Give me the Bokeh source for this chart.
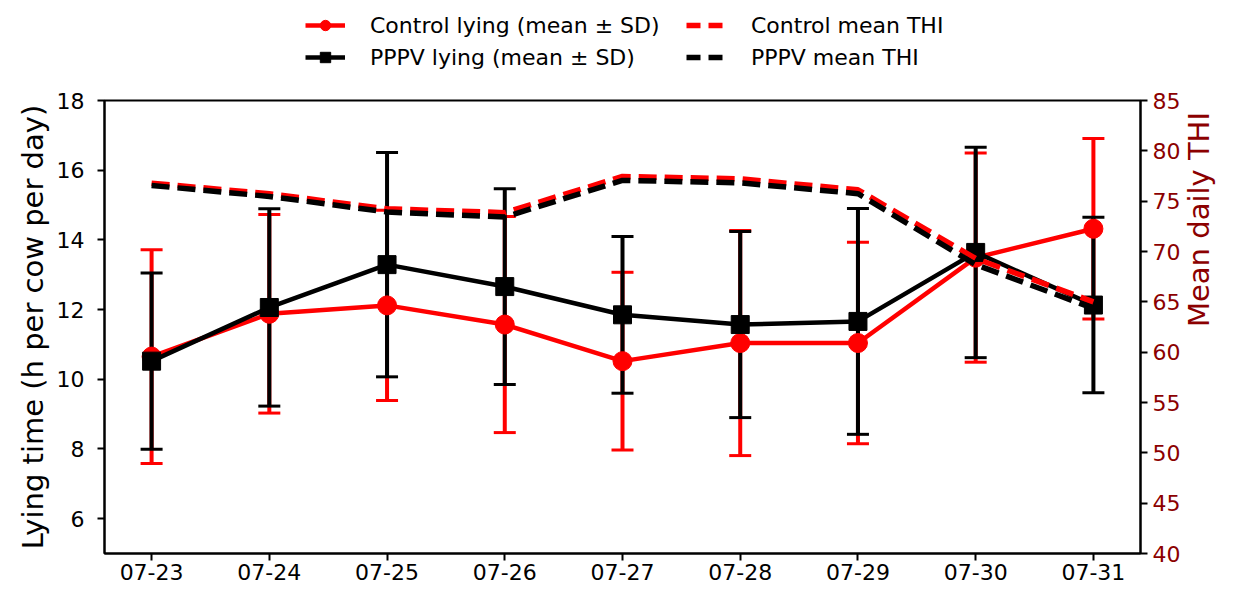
import math
from bokeh.plotting import figure
from bokeh.layouts import column
from bokeh.models import (Range1d, LinearAxis, FixedTicker, Legend, LegendItem,
                          ColumnDataSource)
from bokeh.embed import file_html
from bokeh.resources import INLINE

dates = ["07-23", "07-24", "07-25", "07-26", "07-27", "07-28", "07-29", "07-30", "07-31"]
ctrl_mean = [10.65, 11.88, 12.12, 11.57, 10.52, 11.04, 11.04, 13.49, 14.32]
ctrl_sd = [3.07, 2.85, 2.73, 3.10, 2.55, 3.23, 2.89, 3.00, 2.59]
pppv_mean = [10.52, 12.06, 13.29, 12.66, 11.85, 11.57, 11.66, 13.64, 12.13]
pppv_sd = [2.53, 2.83, 3.22, 2.81, 2.25, 2.67, 3.24, 3.02, 2.52]
ctrl_thi = [76.79, 75.73, 74.24, 73.86, 77.45, 77.22, 76.13, 69.3, 65.0]
pppv_thi = [76.56, 75.47, 73.92, 73.42, 77.06, 76.82, 75.74, 68.7, 64.35]
labels = ["Control lying (mean ± SD)", "PPPV lying (mean ± SD)",
          "Control mean THI", "PPPV mean THI"]

RED = "#ff0000"
BLACK = "#000000"
DARKRED = "#8b0000"
FONT = "DejaVu Sans"

x = list(range(len(dates)))


def src(mean, sd):
    return ColumnDataSource(dict(
        x=x, mean=mean,
        lo=[m - s for m, s in zip(mean, sd)],
        hi=[m + s for m, s in zip(mean, sd)],
    ))


cs = src(ctrl_mean, ctrl_sd)
ps = src(pppv_mean, pppv_sd)

# ---------------- main chart ----------------
p = figure(width=1236, height=516, output_backend="svg", toolbar_location=None,
           x_range=Range1d(-0.4, 8.4), y_range=Range1d(5, 18),
           min_border_left=104, min_border_right=90, min_border_top=28,
           min_border_bottom=35)
p.extra_y_ranges = {"thi": Range1d(40, 85)}
p.xgrid.visible = False
p.ygrid.visible = False
p.outline_line_color = BLACK
p.outline_line_width = 2
p.outline_line_alpha = 1
p.background_fill_color = "white"
p.border_fill_color = "white"

# error bars (below data lines)
for s, c in ((cs, RED), (ps, BLACK)):
    p.segment(x0="x", y0="lo", x1="x", y1="hi", source=s, line_color=c, line_width=4)
    p.scatter(x="x", y="lo", source=s, marker="dash", size=22, line_color=c, line_width=3)
    p.scatter(x="x", y="hi", source=s, marker="dash", size=22, line_color=c, line_width=3)

p.line(x="x", y="mean", source=cs, line_color=RED, line_width=4.5, line_join="round")
p.scatter(x="x", y="mean", source=cs, marker="circle", size=19,
          fill_color=RED, line_color=RED)
p.line(x="x", y="mean", source=ps, line_color=BLACK, line_width=4.5, line_join="round")
p.scatter(x="x", y="mean", source=ps, marker="square", size=18,
          fill_color=BLACK, line_color=BLACK)

p.line(x=x, y=ctrl_thi, y_range_name="thi", line_color=RED, line_width=5.5,
       line_dash="18 8", line_join="round")
p.line(x=x, y=pppv_thi, y_range_name="thi", line_color=BLACK, line_width=5.5,
       line_dash="18 8", line_join="round")


def style_axis(ax, label_color=BLACK):
    ax.axis_line_color = BLACK
    ax.axis_line_width = 2
    ax.major_tick_line_color = BLACK
    ax.major_tick_line_width = 2
    ax.major_tick_out = 7
    ax.major_tick_in = 0
    ax.minor_tick_line_color = None
    ax.major_label_text_font = FONT
    ax.major_label_text_font_size = "22px"
    ax.major_label_text_color = label_color
    ax.axis_label_text_font = FONT
    ax.axis_label_text_font_size = "29px"
    ax.axis_label_text_font_style = "normal"
    ax.axis_label_text_color = label_color


xa = p.xaxis[0]
style_axis(xa)
xa.ticker = FixedTicker(ticks=x)
xa.major_label_overrides = {i: d for i, d in enumerate(dates)}
xa.major_label_standoff = 3

ya = p.yaxis[0]
style_axis(ya)
ya.ticker = FixedTicker(ticks=[6, 8, 10, 12, 14, 16, 18])
ya.axis_label = "Lying time (h per cow per day)"
ya.major_label_standoff = 13
ya.axis_label_standoff = 4

ra = LinearAxis(y_range_name="thi", axis_label="Mean daily THI",
                ticker=FixedTicker(ticks=list(range(40, 86, 5))))
style_axis(ra, DARKRED)
ra.major_label_standoff = 5
ra.axis_label_standoff = 16
try:
    ra.axis_label_orientation = math.pi / 2
except Exception:
    pass
p.add_layout(ra, "right")

# ---------------- legend strip ----------------
lg = figure(width=1236, height=72, output_backend="svg", toolbar_location=None,
            x_range=Range1d(0, 1), y_range=Range1d(0, 1),
            min_border_left=0, min_border_right=0, min_border_top=0,
            min_border_bottom=0)
lg.axis.visible = False
lg.xgrid.visible = False
lg.ygrid.visible = False
lg.outline_line_color = None
lg.background_fill_color = "white"
lg.border_fill_color = "white"


def off():
    # one point far outside the visible range: only its legend swatch shows
    return ColumnDataSource(dict(x=[-10], y=[-10]))


l_cl = lg.line(x="x", y="y", source=off(), line_color=RED, line_width=4.5)
l_cm = lg.scatter(x="x", y="y", source=off(), marker="circle", size=16,
                  fill_color=RED, line_color=RED)
l_pl = lg.line(x="x", y="y", source=off(), line_color=BLACK, line_width=4.5)
l_pm = lg.scatter(x="x", y="y", source=off(), marker="square", size=16,
                  fill_color=BLACK, line_color=BLACK)
l_ct = lg.line(x="x", y="y", source=off(), line_color=RED, line_width=5.5,
               line_dash="14 8")
l_pt = lg.line(x="x", y="y", source=off(), line_color=BLACK, line_width=5.5,
               line_dash="14 8")

legend = Legend(items=[
    LegendItem(label=labels[0], renderers=[l_cl, l_cm]),
    LegendItem(label=labels[1], renderers=[l_pl, l_pm]),
    LegendItem(label=labels[2], renderers=[l_ct]),
    LegendItem(label=labels[3], renderers=[l_pt]),
], location=(201, 2), ncols=2, orientation="vertical")
legend.label_text_font = FONT
legend.label_text_font_size = "22px"
legend.label_text_color = BLACK
legend.glyph_width = 40
legend.glyph_height = 26
legend.label_height = 26
legend.label_width = 310
legend.label_standoff = 25
legend.spacing = 6
legend.padding = 0
legend.margin = 0
legend.border_line_color = None
legend.background_fill_alpha = 0
lg.add_layout(legend, "center")

layout = column(lg, p, spacing=0)
open("out.html", "w").write(file_html(layout, INLINE))
